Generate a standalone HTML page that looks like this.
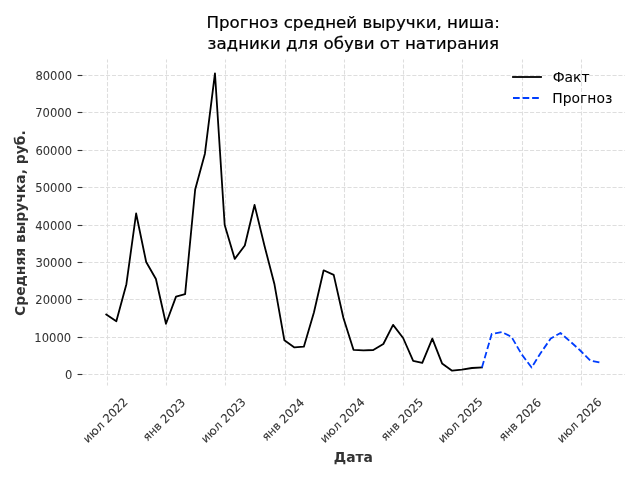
<!DOCTYPE html>
<html><head><meta charset="utf-8"><title>Прогноз средней выручки</title>
<style>html,body{margin:0;padding:0;background:#fff;width:640px;height:480px;overflow:hidden}svg{display:block}text{filter:grayscale(1)}</style>
</head><body>
<svg width="640" height="480" viewBox="0 0 460.8 345.6" version="1.1">
 
 <defs>
  <style type="text/css">*{stroke-linejoin: round; stroke-linecap: butt}</style>
 </defs>
 <g id="figure_1">
  <g id="patch_1">
   <path d="M 0 345.6 
L 460.8 345.6 
L 460.8 0 
L 0 0 
z
" style="fill: #ffffff"/>
  </g>
  <g id="axes_1">
   <g id="patch_2">
    <path d="M 58.7304 277.56 
L 450.072 277.56 
L 450.072 42.192 
L 58.7304 42.192 
z
" style="fill: #ffffff"/>
   </g>
   <g id="matplotlib.axis_1">
    <g id="xtick_1">
     <g id="line2d_1">
      <path d="M 77.4000 278.2800 
L 77.4000 42.8400 
" clip-path="url(#p15f0cf08cf)" style="fill: none; stroke-dasharray: 2.96,1.28; stroke-dashoffset: 0; stroke: #dedede; stroke-width: 0.8"/>
     </g>
     <g id="text_1">
      <g transform="translate(-0.504 0.907)"><text style="stroke: #333333; stroke-width: 0.072px; font-size: 8.33px; font-family: 'DejaVu Sans', sans-serif; fill: #333333" transform="translate(63.670235 318.449815) rotate(-45)">июл 2022</text></g>
     </g>
    </g>
    <g id="xtick_2">
     <g id="line2d_2">
      <path d="M 119.8800 278.2800 
L 119.8800 42.8400 
" clip-path="url(#p15f0cf08cf)" style="fill: none; stroke-dasharray: 2.96,1.28; stroke-dashoffset: 0; stroke: #dedede; stroke-width: 0.8"/>
     </g>
     <g id="text_2">
      <g transform="translate(-1.231 1.231)"><text style="stroke: #333333; stroke-width: 0.072px; font-size: 8.33px; font-family: 'DejaVu Sans', sans-serif; fill: #333333" transform="translate(107.493756 316.763745) rotate(-45)">янв 2023</text></g>
     </g>
    </g>
    <g id="xtick_3">
     <g id="line2d_3">
      <path d="M 162.3600 278.2800 
L 162.3600 42.8400 
" clip-path="url(#p15f0cf08cf)" style="fill: none; stroke-dasharray: 2.96,1.28; stroke-dashoffset: 0; stroke: #dedede; stroke-width: 0.8"/>
     </g>
     <g id="text_3">
      <g transform="translate(-0.835 0.864)"><text style="stroke: #333333; stroke-width: 0.072px; font-size: 8.33px; font-family: 'DejaVu Sans', sans-serif; fill: #333333" transform="translate(148.930439 318.449815) rotate(-45)">июл 2023</text></g>
     </g>
    </g>
    <g id="xtick_4">
     <g id="line2d_4">
      <path d="M 205.5600 278.2800 
L 205.5600 42.8400 
" clip-path="url(#p15f0cf08cf)" style="fill: none; stroke-dasharray: 2.96,1.28; stroke-dashoffset: 0; stroke: #dedede; stroke-width: 0.8"/>
     </g>
     <g id="text_4">
      <g transform="translate(-0.792 1.202)"><text style="stroke: #333333; stroke-width: 0.072px; font-size: 8.33px; font-family: 'DejaVu Sans', sans-serif; fill: #333333" transform="translate(192.75396 316.763745) rotate(-45)">янв 2024</text></g>
     </g>
    </g>
    <g id="xtick_5">
     <g id="line2d_5">
      <path d="M 248.0400 278.2800 
L 248.0400 42.8400 
" clip-path="url(#p15f0cf08cf)" style="fill: none; stroke-dasharray: 2.96,1.28; stroke-dashoffset: 0; stroke: #dedede; stroke-width: 0.8"/>
     </g>
     <g id="text_5">
      <g transform="translate(-0.619 0.850)"><text style="stroke: #333333; stroke-width: 0.072px; font-size: 8.33px; font-family: 'DejaVu Sans', sans-serif; fill: #333333" transform="translate(234.424233 318.449815) rotate(-45)">июл 2024</text></g>
     </g>
    </g>
    <g id="xtick_6">
     <g id="line2d_6">
      <path d="M 290.5200 278.2800 
L 290.5200 42.8400 
" clip-path="url(#p15f0cf08cf)" style="fill: none; stroke-dasharray: 2.96,1.28; stroke-dashoffset: 0; stroke: #dedede; stroke-width: 0.8"/>
     </g>
     <g id="text_6">
      <g transform="translate(-0.619 1.195)"><text style="stroke: #333333; stroke-width: 0.072px; font-size: 8.33px; font-family: 'DejaVu Sans', sans-serif; fill: #333333" transform="translate(278.247754 316.763745) rotate(-45)">янв 2025</text></g>
     </g>
    </g>
    <g id="xtick_7">
     <g id="line2d_7">
      <path d="M 333.0000 278.2800 
L 333.0000 42.8400 
" clip-path="url(#p15f0cf08cf)" style="fill: none; stroke-dasharray: 2.96,1.28; stroke-dashoffset: 0; stroke: #dedede; stroke-width: 0.8"/>
     </g>
     <g id="text_7">
      <g transform="translate(-0.929 0.835)"><text style="stroke: #333333; stroke-width: 0.072px; font-size: 8.33px; font-family: 'DejaVu Sans', sans-serif; fill: #333333" transform="translate(319.684437 318.449815) rotate(-45)">июл 2025</text></g>
     </g>
    </g>
    <g id="xtick_8">
     <g id="line2d_8">
      <path d="M 376.2000 278.2800 
L 376.2000 42.8400 
" clip-path="url(#p15f0cf08cf)" style="fill: none; stroke-dasharray: 2.96,1.28; stroke-dashoffset: 0; stroke: #dedede; stroke-width: 0.8"/>
     </g>
     <g id="text_8">
      <g transform="translate(-0.958 1.246)"><text style="stroke: #333333; stroke-width: 0.072px; font-size: 8.33px; font-family: 'DejaVu Sans', sans-serif; fill: #333333" transform="translate(363.507958 316.763745) rotate(-45)">янв 2026</text></g>
     </g>
    </g>
    <g id="xtick_9">
     <g id="line2d_9">
      <path d="M 418.6800 278.2800 
L 418.6800 42.8400 
" clip-path="url(#p15f0cf08cf)" style="fill: none; stroke-dasharray: 2.96,1.28; stroke-dashoffset: 0; stroke: #dedede; stroke-width: 0.8"/>
     </g>
     <g id="text_9">
      <g transform="translate(-0.540 0.914)"><text style="stroke: #333333; stroke-width: 0.072px; font-size: 8.33px; font-family: 'DejaVu Sans', sans-serif; fill: #333333" transform="translate(404.944641 318.449815) rotate(-45)">июл 2026</text></g>
     </g>
    </g>
    <g id="text_10">
     <g transform="translate(0.014 1.440)"><text style="stroke: #333333; stroke-width: 0.022px; font-weight: 700; font-size: 10px; font-family: 'DejaVu Sans', sans-serif; text-anchor: middle; fill: #333333" x="254.4012" y="331.27323" transform="rotate(-0 254.4012 331.27323)">Дата</text></g>
    </g>
   </g>
   <g id="matplotlib.axis_2">
    <g id="ytick_1">
     <g id="line2d_10">
      <path d="M 59.4000 269.6400 
L 450.3600 269.6400 
" clip-path="url(#p15f0cf08cf)" style="fill: none; stroke-dasharray: 2.96,1.28; stroke-dashoffset: 0; stroke: #dedede; stroke-width: 0.8"/>
     </g>
     <g id="line2d_11">
      <defs>
       <path id="m553f1c9a3b" d="M 0 0 
L -3.5 0 
" style="stroke: #333333; stroke-width: 0.8"/>
      </defs>
      <g>
       <use href="#m553f1c9a3b" x="59.3496" y="269.6400" style="fill: #333333; stroke: #333333; stroke-width: 0.8"/>
      </g>
     </g>
     <g id="text_11">
      <g transform="translate(0.288 0.353)"><text style="stroke: #333333; stroke-width: 0.029px; font-size: 8.33px; font-family: 'DejaVu Sans', sans-serif; text-anchor: end; fill: #333333" x="51.7304" y="272.516749" transform="rotate(-0 51.7304 272.516749)">0</text></g>
     </g>
    </g>
    <g id="ytick_2">
     <g id="line2d_12">
      <path d="M 59.4000 243.0000 
L 450.3600 243.0000 
" clip-path="url(#p15f0cf08cf)" style="fill: none; stroke-dasharray: 2.96,1.28; stroke-dashoffset: 0; stroke: #dedede; stroke-width: 0.8"/>
     </g>
     <g id="line2d_13">
      <g>
       <use href="#m553f1c9a3b" x="59.3496" y="243.0000" style="fill: #333333; stroke: #333333; stroke-width: 0.8"/>
      </g>
     </g>
     <g id="text_12">
      <g transform="translate(-0.554 0.900)"><text style="stroke: #333333; stroke-width: 0.029px; font-size: 8.33px; font-family: 'DejaVu Sans', sans-serif; text-anchor: end; fill: #333333" x="51.7304" y="245.595949" transform="rotate(-0 51.7304 245.595949)">10000</text></g>
     </g>
    </g>
    <g id="ytick_3">
     <g id="line2d_14">
      <path d="M 59.4000 215.6400 
L 450.3600 215.6400 
" clip-path="url(#p15f0cf08cf)" style="fill: none; stroke-dasharray: 2.96,1.28; stroke-dashoffset: 0; stroke: #dedede; stroke-width: 0.8"/>
     </g>
     <g id="line2d_15">
      <g>
       <use href="#m553f1c9a3b" x="59.3496" y="215.6400" style="fill: #333333; stroke: #333333; stroke-width: 0.8"/>
      </g>
     </g>
     <g id="text_13">
      <g transform="translate(0.180 0.158)"><text style="stroke: #333333; stroke-width: 0.029px; font-size: 8.33px; font-family: 'DejaVu Sans', sans-serif; text-anchor: end; fill: #333333" x="51.7304" y="218.675149" transform="rotate(-0 51.7304 218.675149)">20000</text></g>
     </g>
    </g>
    <g id="ytick_4">
     <g id="line2d_16">
      <path d="M 59.4000 189.0000 
L 450.3600 189.0000 
" clip-path="url(#p15f0cf08cf)" style="fill: none; stroke-dasharray: 2.96,1.28; stroke-dashoffset: 0; stroke: #dedede; stroke-width: 0.8"/>
     </g>
     <g id="line2d_17">
      <g>
       <use href="#m553f1c9a3b" x="59.3496" y="189.0000" style="fill: #333333; stroke: #333333; stroke-width: 0.8"/>
      </g>
     </g>
     <g id="text_14">
      <g transform="translate(0.230 0.828)"><text style="stroke: #333333; stroke-width: 0.029px; font-size: 8.33px; font-family: 'DejaVu Sans', sans-serif; text-anchor: end; fill: #333333" x="51.7304" y="191.754349" transform="rotate(-0 51.7304 191.754349)">30000</text></g>
     </g>
    </g>
    <g id="ytick_5">
     <g id="line2d_18">
      <path d="M 59.4000 162.3600 
L 450.3600 162.3600 
" clip-path="url(#p15f0cf08cf)" style="fill: none; stroke-dasharray: 2.96,1.28; stroke-dashoffset: 0; stroke: #dedede; stroke-width: 0.8"/>
     </g>
     <g id="line2d_19">
      <g>
       <use href="#m553f1c9a3b" x="59.3496" y="162.3600" style="fill: #333333; stroke: #333333; stroke-width: 0.8"/>
      </g>
     </g>
     <g id="text_15">
      <g transform="translate(0.072 0.900)"><text style="stroke: #333333; stroke-width: 0.029px; font-size: 8.33px; font-family: 'DejaVu Sans', sans-serif; text-anchor: end; fill: #333333" x="51.7304" y="164.833549" transform="rotate(-0 51.7304 164.833549)">40000</text></g>
     </g>
    </g>
    <g id="ytick_6">
     <g id="line2d_20">
      <path d="M 59.4000 135.0000 
L 450.3600 135.0000 
" clip-path="url(#p15f0cf08cf)" style="fill: none; stroke-dasharray: 2.96,1.28; stroke-dashoffset: 0; stroke: #dedede; stroke-width: 0.8"/>
     </g>
     <g id="line2d_21">
      <g>
       <use href="#m553f1c9a3b" x="59.3496" y="135.0000" style="fill: #333333; stroke: #333333; stroke-width: 0.8"/>
      </g>
     </g>
     <g id="text_16">
      <g transform="translate(0.180 0.158)"><text style="stroke: #333333; stroke-width: 0.029px; font-size: 8.33px; font-family: 'DejaVu Sans', sans-serif; text-anchor: end; fill: #333333" x="51.7304" y="137.912749" transform="rotate(-0 51.7304 137.912749)">50000</text></g>
     </g>
    </g>
    <g id="ytick_7">
     <g id="line2d_22">
      <path d="M 59.4000 108.3600 
L 450.3600 108.3600 
" clip-path="url(#p15f0cf08cf)" style="fill: none; stroke-dasharray: 2.96,1.28; stroke-dashoffset: 0; stroke: #dedede; stroke-width: 0.8"/>
     </g>
     <g id="line2d_23">
      <g>
       <use href="#m553f1c9a3b" x="59.3496" y="108.3600" style="fill: #333333; stroke: #333333; stroke-width: 0.8"/>
      </g>
     </g>
     <g id="text_17">
      <g transform="translate(0.223 0.914)"><text style="stroke: #333333; stroke-width: 0.029px; font-size: 8.33px; font-family: 'DejaVu Sans', sans-serif; text-anchor: end; fill: #333333" x="51.7304" y="110.991949" transform="rotate(-0 51.7304 110.991949)">60000</text></g>
     </g>
    </g>
    <g id="ytick_8">
     <g id="line2d_24">
      <path d="M 59.4000 81.0000 
L 450.3600 81.0000 
" clip-path="url(#p15f0cf08cf)" style="fill: none; stroke-dasharray: 2.96,1.28; stroke-dashoffset: 0; stroke: #dedede; stroke-width: 0.8"/>
     </g>
     <g id="line2d_25">
      <g>
       <use href="#m553f1c9a3b" x="59.3496" y="81.0000" style="fill: #333333; stroke: #333333; stroke-width: 0.8"/>
      </g>
     </g>
     <g id="text_18">
      <g transform="translate(0.065 0.180)"><text style="stroke: #333333; stroke-width: 0.029px; font-size: 8.33px; font-family: 'DejaVu Sans', sans-serif; text-anchor: end; fill: #333333" x="51.7304" y="84.071149" transform="rotate(-0 51.7304 84.071149)">70000</text></g>
     </g>
    </g>
    <g id="ytick_9">
     <g id="line2d_26">
      <path d="M 59.4000 54.3600 
L 450.3600 54.3600 
" clip-path="url(#p15f0cf08cf)" style="fill: none; stroke-dasharray: 2.96,1.28; stroke-dashoffset: 0; stroke: #dedede; stroke-width: 0.8"/>
     </g>
     <g id="line2d_27">
      <g>
       <use href="#m553f1c9a3b" x="59.3496" y="54.3600" style="fill: #333333; stroke: #333333; stroke-width: 0.8"/>
      </g>
     </g>
     <g id="text_19">
      <g transform="translate(0.216 0.338)"><text style="stroke: #333333; stroke-width: 0.029px; font-size: 8.33px; font-family: 'DejaVu Sans', sans-serif; text-anchor: end; fill: #333333" x="51.7304" y="57.150349" transform="rotate(-0 51.7304 57.150349)">80000</text></g>
     </g>
    </g>
    <g id="text_20">
     <g transform="translate(-0.770 0.770)"><text style="font-weight: 700; font-size: 10px; font-family: 'DejaVu Sans', sans-serif; text-anchor: middle; fill: #333333" x="19.072775" y="159.876" transform="rotate(-90 19.072775 159.876)">Средняя выручка, руб.</text></g>
    </g>
   </g>
   <g id="line2d_28">
    <path d="M 76.51841 226.368 
L 83.759688 231.264 
L 91.000966 204.624 
L 98.008654 153.72 
L 105.249931 188.64 
L 112.257619 200.88 
L 119.498897 233.136 
L 126.740174 213.552 
L 133.280683 211.824 
L 140.521961 136.44 
L 147.529649 110.664 
L 154.770926 52.776 
L 161.778614 162 
L 169.019892 186.408 
L 176.26117 176.76 
L 183.268858 147.6 
L 190.510135 177.3 
L 197.517823 204.264 
L 204.759101 245.016 
L 212.000378 250.128 
L 218.774477 249.624 
L 226.015754 225 
L 233.023442 194.616 
L 240.26472 197.928 
L 247.272408 228.96 
L 254.513686 251.856 
L 261.754963 252.216 
L 268.762651 252 
L 276.003929 247.68 
L 283.011617 233.928 
L 290.252894 243.36 
L 297.494172 259.776 
L 304.034681 261.288 
L 311.275958 243.792 
L 318.283646 261.648 
L 325.524924 266.904 
L 332.532612 266.112 
L 339.77389 264.96 
L 347.015167 264.6 
" clip-path="url(#p15f0cf08cf)" style="fill: none; stroke: #000000; stroke-width: 1.3; stroke-linecap: square"/>
   </g>
   <g id="line2d_29">
    <path d="M 347.015167 264.6 
L 354.022855 240.48 
L 361.264133 239.112 
L 368.271821 242.496 
L 375.513098 255.024 
L 382.754376 264.6 
L 389.294885 254.16 
L 396.536162 243.72 
L 403.54385 239.76 
L 410.785128 246.024 
L 417.792816 252.36 
L 425.034094 259.56 
L 432.275371 261.144 
" clip-path="url(#p15f0cf08cf)" style="fill: none; stroke-dasharray: 4.81,2.08; stroke-dashoffset: 0; stroke: #003dfd; stroke-width: 1.3"/>
   </g>
   <g id="text_21">
    <g transform="translate(-0.079 -2.052)"><text style="stroke: #000000; stroke-width: 0.158px; font-size: 12px; font-family: 'DejaVu Sans', sans-serif" transform="translate(148.670887 22.509375)">Прогноз средней выручки, ниша:</text></g>
    <g transform="translate(0.050 -0.598)"><text style="stroke: #000000; stroke-width: 0.158px; font-size: 12px; font-family: 'DejaVu Sans', sans-serif" transform="translate(149.385263 36.192)">задники для обуви от натирания</text></g>
   </g>
   <g id="legend_1">
    <g id="line2d_30">
     <path d="M 369.3600 55.4400 
L 379.4400 55.4400 
L 389.5200 55.4400 
" style="fill: none; stroke: #000000; stroke-width: 1.3; stroke-linecap: square"/>
    </g>
    <g id="text_22">
     <g transform="translate(0.050 -0.036)"><text style="stroke: #000000; stroke-width: 0.036px; font-size: 10px; font-family: 'DejaVu Sans', sans-serif; text-anchor: start" x="397.856375" y="58.790437" transform="rotate(-0 397.856375 58.790437)">Факт</text></g>
    </g>
    <g id="line2d_31">
     <path d="M 369.3600 70.5600 
L 379.4400 70.5600 
L 389.5200 70.5600 
" style="fill: none; stroke-dasharray: 4.81,2.08; stroke-dashoffset: 0; stroke: #003dfd; stroke-width: 1.3"/>
    </g>
    <g id="text_23">
     <g transform="translate(-0.173 0.756)"><text style="stroke: #000000; stroke-width: 0.036px; font-size: 10px; font-family: 'DejaVu Sans', sans-serif; text-anchor: start" x="397.856375" y="73.468563" transform="rotate(-0 397.856375 73.468563)">Прогноз</text></g>
    </g>
   </g>
  </g>
 </g>
 <defs>
  <clipPath id="p15f0cf08cf">
   <rect x="58.7304" y="42.192" width="391.3416" height="235.368"/>
  </clipPath>
 </defs>
</svg>

</body></html>
